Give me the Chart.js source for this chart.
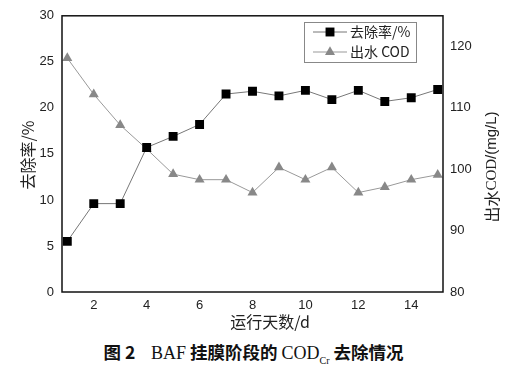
<!DOCTYPE html>
<html>
<head>
<meta charset="utf-8">
<script src="https://cdn.jsdelivr.net/npm/chart.js@4"></script>
<style>
  html, body { margin: 0; padding: 0; background: #fff; }
  #wrap { position: relative; width: 507px; height: 366px; }
  #c { position: absolute; left: 0; top: 0; }
  #caption {
    position: absolute; left: 0; top: 339px; width: 507px; text-align: center;
    font-family: "Noto Sans CJK SC", sans-serif; font-weight: bold; font-size: 17.5px; color: #111;
  }
  #caption .lat { font-family: "Liberation Serif", serif; font-weight: normal; font-size: 18px; }
  #caption sub { font-family: "Liberation Serif", serif; font-weight: normal; font-size: 10px; }
</style>
</head>
<body>
<div id="wrap">
  <canvas id="c" width="507" height="335"></canvas>
  <div id="caption">图 2&nbsp;&nbsp;&nbsp;&nbsp;<span class="lat">BAF</span> 挂膜阶段的 <span class="lat">COD</span><sub>Cr</sub> 去除情况</div>
</div>
<script>
// ===== data =====
const days = [1, 2, 3, 4, 5, 6, 7, 8, 9, 10, 11, 12, 13, 14, 15];
const removalRate = [5.5, 9.6, 9.6, 15.7, 16.9, 18.2, 21.5, 21.8, 21.3, 21.9, 20.9, 21.9, 20.7, 21.1, 22.0];
const effluentCod = [118.1, 112.2, 107.2, 103.3, 99.2, 98.3, 98.3, 96.2, 100.3, 98.3, 100.3, 96.2, 97.1, 98.3, 99.1];
const xTicks = [2, 4, 6, 8, 10, 12, 14];
const leftTicks = [0, 5, 10, 15, 20, 25, 30];
const rightTicks = [80, 90, 100, 110, 120];
const seriesNames = ['去除率/%', '出水 COD'];

const TICK_FONT = { family: 'Liberation Sans, Arial', size: 13 };
const CJK = '"Noto Sans CJK SC", sans-serif';

// draws text made of differently-fonted pieces, centred on (0,0)
function drawPieces(ctx, pieces) {
  let total = 0;
  pieces.forEach(p => { ctx.font = p.font; p.w = ctx.measureText(p.text).width; total += p.w; });
  let x = -total / 2;
  ctx.textAlign = 'left';
  pieces.forEach(p => { ctx.font = p.font; ctx.fillText(p.text, x, 0); x += p.w; });
}

// frame, axis titles and the in-plot legend
const decor = {
  id: 'decor',
  afterDraw(chart) {
    const { ctx, chartArea: a } = chart;
    ctx.save();
    ctx.strokeStyle = '#111';
    ctx.lineWidth = 1.5;
    ctx.strokeRect(a.left, a.top, a.right - a.left, a.bottom - a.top);

    ctx.fillStyle = '#222';
    ctx.font = '16px ' + CJK;
    ctx.textAlign = 'center';
    ctx.textBaseline = 'middle';
    ctx.fillText('运行天数/d', 270, 322);

    ctx.save();
    ctx.translate(28, 155);
    ctx.rotate(-Math.PI / 2);
    ctx.font = '16px ' + CJK;
    ctx.fillText('去除率/%', 0, 0);
    ctx.restore();

    ctx.save();
    ctx.translate(492, 167);
    ctx.rotate(-Math.PI / 2);
    drawPieces(ctx, [
      { text: '出水', font: '16px ' + CJK },
      { text: 'COD', font: '15px "Liberation Serif", serif' },
      { text: '/(mg/L)', font: '15px "Liberation Sans", Arial' }
    ]);
    ctx.restore();

    // legend
    const bx = 304, by = 22, bw = 112, bh = 40;
    ctx.fillStyle = '#fff';
    ctx.fillRect(bx, by, bw, bh);
    ctx.strokeStyle = '#888';
    ctx.lineWidth = 1;
    ctx.strokeRect(bx + 0.5, by + 0.5, bw, bh);
    const rows = [
      { y: 32, ds: chart.data.datasets[0] },
      { y: 52, ds: chart.data.datasets[1] }
    ];
    rows.forEach((r, i) => {
      ctx.strokeStyle = r.ds.borderColor;
      ctx.lineWidth = 1;
      ctx.beginPath();
      ctx.moveTo(313, r.y);
      ctx.lineTo(347, r.y);
      ctx.stroke();
      ctx.fillStyle = r.ds.pointBackgroundColor;
      Chart.helpers.drawPoint(ctx, { pointStyle: r.ds.pointStyle, radius: r.ds.pointRadius, rotation: 0, borderWidth: 0 }, 330, r.y);
      ctx.fillStyle = '#222';
      ctx.textAlign = 'left';
      ctx.font = '14px ' + CJK;
      ctx.fillText(seriesNames[i], 350, r.y);
    });
    ctx.restore();
  }
};

new Chart(document.getElementById('c'), {
  type: 'line',
  data: {
    labels: days,
    datasets: [
      {
        label: seriesNames[0],
        data: days.map((d, i) => ({ x: d, y: removalRate[i] })),
        yAxisID: 'y',
        borderColor: '#777',
        borderWidth: 1,
        pointStyle: 'rect',
        pointRadius: 6.3,
        pointBackgroundColor: '#000',
        pointBorderWidth: 0
      },
      {
        label: seriesNames[1],
        data: days.map((d, i) => ({ x: d, y: effluentCod[i] })),
        yAxisID: 'y1',
        borderColor: '#999',
        borderWidth: 1,
        pointStyle: 'triangle',
        pointRadius: 5.8,
        pointBackgroundColor: '#888',
        pointBorderWidth: 0
      }
    ]
  },
  options: {
    responsive: false,
    animation: false,
    layout: { padding: { top: 12, left: 0, right: 0, bottom: 0 } },
    plugins: { legend: { display: false }, tooltip: { enabled: false } },
    scales: {
      x: {
        type: 'linear', min: 0.8, max: 15.2,
        afterBuildTicks: s => { s.ticks = xTicks.map(v => ({ value: v })); },
        afterFit: s => { s.height = 43; },
        grid: { display: false, drawTicks: false },
        border: { display: false },
        ticks: { color: '#222', font: TICK_FONT, padding: 6 }
      },
      y: {
        position: 'left', min: 0, max: 30,
        afterBuildTicks: s => { s.ticks = leftTicks.map(v => ({ value: v })); },
        afterFit: s => { s.width = 62; },
        grid: { display: false, drawTicks: false },
        border: { display: false },
        ticks: { color: '#222', font: TICK_FONT, padding: 8 }
      },
      y1: {
        position: 'right', min: 80, max: 125,
        afterBuildTicks: s => { s.ticks = rightTicks.map(v => ({ value: v })); },
        afterFit: s => { s.width = 64; },
        grid: { display: false, drawTicks: false },
        border: { display: false },
        ticks: { color: '#222', font: TICK_FONT, padding: 7 }
      }
    }
  },
  plugins: [decor]
});
</script>
</body>
</html>
